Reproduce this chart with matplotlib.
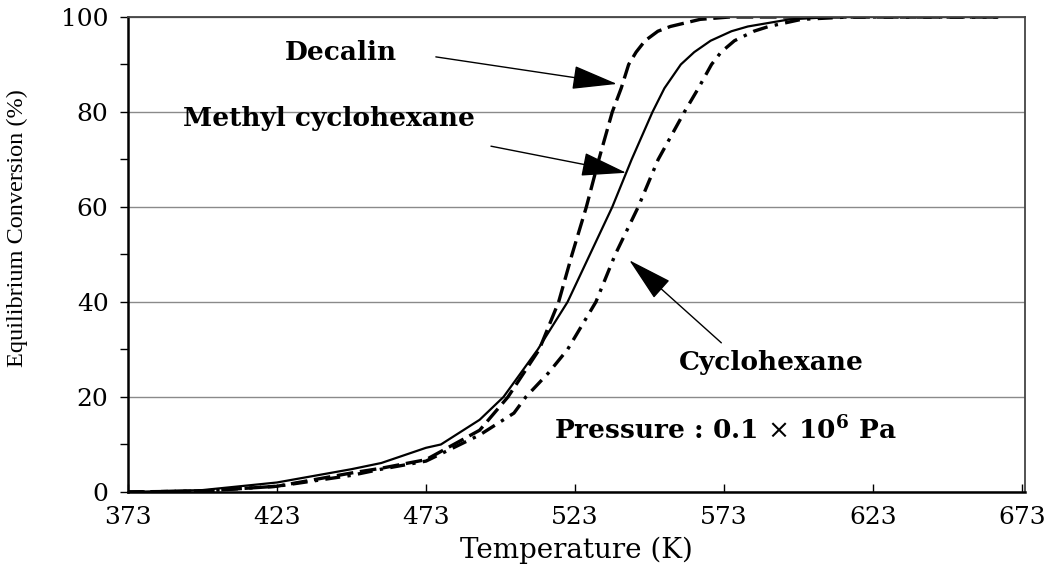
import matplotlib.pyplot as plt

# equilibrium conversion vs temperature, 0.1 MPa
t_mch = [373, 398, 423, 448, 458, 473, 478, 491, 499, 510.5, 520.5, 528,
         535.5, 542, 549, 553, 558.5, 563, 568.5, 575.5, 581, 595, 610, 665]
x_mch = [0, 0.4, 2, 4.8, 6.1, 9.3, 10, 15.2, 20, 30, 40, 50,
         60, 70, 80, 85, 90, 92.6, 95, 97, 98, 99.5, 100, 100]

t_dec = [373, 398, 423, 448, 458, 473, 491, 500.5, 511, 517.5, 522,
         526.8, 531, 535.5, 538.5, 541, 543.5, 546.5, 550.8, 555, 565,
         575, 665]
x_dec = [0, 0.2, 1.2, 4, 5, 6.8, 13, 20, 30, 40, 50,
         60, 70, 80, 85, 90, 92.6, 95, 97, 98, 99.5,
         100, 100]

t_cyc = [373, 398, 423, 448, 458, 473, 491, 502.5, 506.5, 514, 520.5, 530,
         536.5, 544.2, 550.9, 559.7, 564.4, 568.8, 572, 576.5, 583, 588,
         599, 615, 665]
x_cyc = [0, 0.2, 1.2, 3.5, 4.8, 6.5, 12, 16.6, 20, 25, 30, 40,
         50, 60, 70, 80, 85, 90, 92.6, 95, 97, 98,
         99.5, 100, 100]

xticks = [373, 423, 473, 523, 573, 623, 673]
yticks = [0, 20, 40, 60, 80, 100]

plt.rcParams['mathtext.fontset'] = 'dejavuserif'
serif = 'DejaVu Serif'

fig = plt.figure(figsize=(10.55, 5.64), dpi=100)
ax = fig.add_axes([0.1213, 0.1277, 0.8503, 0.8422])

ax.plot(t_mch, x_mch, color='black', lw=1.6, solid_joinstyle='round')
ax.plot(t_dec, x_dec, color='black', lw=2.4, dashes=(5, 2))
ax.plot(t_cyc, x_cyc, color='black', lw=2.4, dashes=(4.5, 2.2, 1, 2.2))

ax.set_xlim(373, 674)
ax.set_ylim(0, 100)
ax.set_xticks(xticks)
ax.set_yticks(yticks)
ax.set_yticks(range(10, 100, 20), minor=True)
ax.grid(axis='y', color='#8a8a8a', lw=1.0)
ax.tick_params(axis='x', direction='in', length=6, width=1, pad=10,
               labelsize=18)
ax.tick_params(axis='y', which='both', direction='out', length=6, width=1,
               pad=8, labelsize=18)
for lab in ax.get_xticklabels() + ax.get_yticklabels():
    lab.set_family(serif)

for side in ['left', 'bottom']:
    ax.spines[side].set_linewidth(1.8)
    ax.spines[side].set_color('black')
for side in ['top', 'right']:
    ax.spines[side].set_linewidth(1.3)
    ax.spines[side].set_color('#444444')

ax.set_xlabel('Temperature (K)', family=serif, fontsize=20)
ax.xaxis.set_label_coords(0.5, -0.095)
ax.set_ylabel('Equilibrium Conversion (%)', family='Liberation Serif',
              fontsize=17.5)
ax.yaxis.set_label_coords(-0.112, 0.556)

arrow = dict(arrowstyle='-|>,head_length=1.6,head_width=0.42',
             mutation_scale=18, lw=1, color='black',
             shrinkA=0, shrinkB=0)
bold = dict(family=serif, fontweight='bold', fontsize=19,
            ha='center', va='center')

ax.text(444.6, 92.6, 'Decalin', **bold)
ax.annotate('', xy=(537.1, 85.9), xytext=(476.3, 91.6), arrowprops=arrow)

ax.text(440.3, 78.7, 'Methyl cyclohexane', **bold)
ax.annotate('', xy=(540.2, 67.2), xytext=(494.8, 72.8), arrowprops=arrow)

ax.text(588.9, 27.2, 'Cyclohexane', **bold)
ax.annotate('', xy=(541.2, 48.8), xytext=(572.1, 31.4), arrowprops=arrow)

ax.text(516, 13.1, r'Pressure : 0.1 $\times$ 10$^{\mathbf{6}}$ Pa',
        family=serif, fontweight='bold', fontsize=19, ha='left', va='center')

fig.savefig('out.png', dpi=100)
